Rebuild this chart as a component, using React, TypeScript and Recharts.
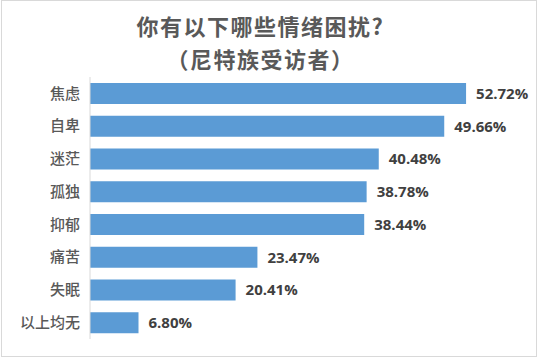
import { Bar, BarChart, LabelList, XAxis, YAxis } from "recharts";

const categories = ["焦虑", "自卑", "迷茫", "孤独", "抑郁", "痛苦", "失眠", "以上均无"];
const shares = [52.72, 49.66, 40.48, 38.78, 38.44, 23.47, 20.41, 6.8];
const titleLines = ["你有以下哪些情绪困扰?", "（尼特族受访者）"];

const BAR_COLOR = "#5B9BD5";
const TEXT_GRAY = "#595959";
const CJK = '"Noto Sans CJK SC", "Microsoft YaHei", sans-serif';

const data = categories.map((name, i) => ({ name, value: shares[i] }));

export default function App() {
  return (
    <div
      style={{
        position: "fixed",
        left: 0,
        top: 0,
        width: 538,
        height: 359,
        background: "#fff",
        fontFamily: CJK,
      }}
    >
      <div
        style={{
          position: "absolute",
          left: 1,
          top: 0,
          width: 536,
          height: 357,
          border: "1px solid #D9D9D9",
          boxSizing: "border-box",
        }}
      />
      {titleLines.map((line, i) => (
        <div
          key={line}
          style={{
            position: "absolute",
            left: 0,
            top: 14 + i * 33,
            width: 521,
            height: 22,
            textAlign: "center",
            color: TEXT_GRAY,
            fontWeight: 700,
            fontSize: 22,
            letterSpacing: 1.5,
            lineHeight: "22px",
          }}
        >
          {line}
        </div>
      ))}
      <BarChart
        width={538}
        height={359}
        data={data}
        layout="vertical"
        margin={{ top: 77, right: 20, bottom: 20, left: 0 }}
        style={{ position: "absolute", left: 0, top: 0 }}
      >
        <XAxis type="number" domain={[0, 60]} hide />
        <YAxis
          type="category"
          dataKey="name"
          width={90}
          tickSize={0}
          tickMargin={10}
          tickLine={false}
          axisLine={{ stroke: "#D9D9D9" }}
          tick={{ fill: TEXT_GRAY, fontSize: 15, fontFamily: CJK, fontWeight: 500 }}
        />
        <Bar dataKey="value" fill={BAR_COLOR} barSize={21} isAnimationActive={false}>
          <LabelList
            dataKey="value"
            position="right"
            offset={10}
            formatter={(v: number) => `${v.toFixed(2)}%`}
            fill="#404040"
            fontSize={15}
            fontWeight={700}
            fontFamily='"Open Sans", sans-serif'
          />
        </Bar>
      </BarChart>
    </div>
  );
}
